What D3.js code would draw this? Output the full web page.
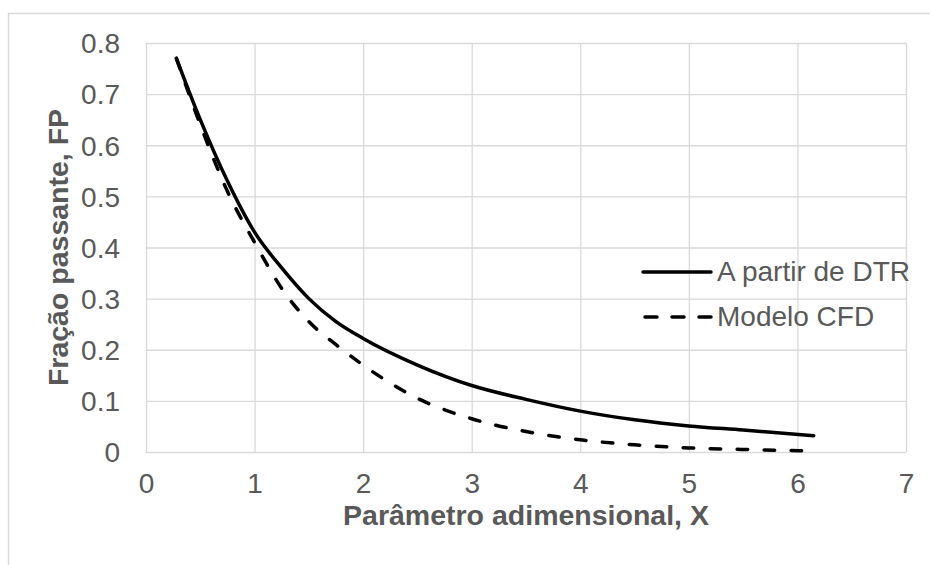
<!DOCTYPE html>
<html>
<head>
<meta charset="utf-8">
<script src="https://cdn.jsdelivr.net/npm/d3@7"></script>
<style>
  body { margin: 0; background: #fff; }
  text { font-family: "Liberation Sans", Arial, sans-serif; fill: #595959; }
</style>
</head>
<body>
<div id="chart"></div>
<script>
// data
var xDTR = [0.28, 0.5, 0.75, 1, 1.25, 1.5, 1.75, 2, 2.5, 3, 3.5, 4, 4.5, 5, 5.5, 6.15];
var yDTR = [0.77, 0.65, 0.53, 0.43, 0.36, 0.30, 0.255, 0.222, 0.17, 0.13, 0.103, 0.08, 0.063, 0.051, 0.043, 0.032];
var xCFD = [0.28, 0.5, 0.75, 1, 1.25, 1.5, 1.75, 2, 2.5, 3, 3.5, 4, 4.5, 5, 5.5, 6.15];
var yCFD = [0.77, 0.64, 0.51, 0.41, 0.32, 0.255, 0.21, 0.17, 0.105, 0.065, 0.04, 0.024, 0.014, 0.008, 0.005, 0.002];
var xTicks = [0, 1, 2, 3, 4, 5, 6, 7];
var yTicks = [0, 0.1, 0.2, 0.3, 0.4, 0.5, 0.6, 0.7, 0.8];
var seriesNames = ["A partir de DTR", "Modelo CFD"];

var width = 930, height = 565;
var margin = { left: 146, right: 24, top: 43, bottom: 113 };
var w = width - margin.left - margin.right;
var h = height - margin.top - margin.bottom;

var svg = d3.select('#chart')
  .append('svg')
  .attr('width', width)
  .attr('height', height);

// chart area border (runs off right and bottom edge)
svg.append('rect')
  .attr('x', 8.5).attr('y', 13.5)
  .attr('width', 960).attr('height', 600)
  .attr('fill', 'none')
  .attr('stroke', '#d9d9d9')
  .attr('stroke-width', 1.5);

var g = svg.append('g')
  .attr('transform', 'translate(' + margin.left + ',' + margin.top + ')');

var x = d3.scaleLinear().domain([0, 7]).range([0, w]);
var y = d3.scaleLinear().domain([0, 0.8]).range([h, 0]);

var xAxis = g.append('g')
  .attr('transform', 'translate(0,' + h + ')')
  .call(d3.axisBottom(x).tickValues(xTicks).tickSize(-h).tickPadding(0).tickFormat(d3.format('d')));
var yAxis = g.append('g')
  .call(d3.axisLeft(y).tickValues(yTicks).tickSize(-w).tickPadding(0).tickFormat(function (d) { return d === 0 ? '0' : d3.format('.1f')(d); }));

[xAxis, yAxis].forEach(function (a) {
  a.select('.domain').remove();
  a.selectAll('line').attr('stroke', '#d9d9d9').attr('stroke-width', 1.3);
  a.selectAll('text')
    .style('font-size', '28px')
    .attr('fill', '#595959');
});
xAxis.selectAll('text').attr('y', 41).attr('dy', null);
yAxis.selectAll('text').attr('x', -26).attr('dy', '0.35em');

// lines
var line = d3.line()
  .x(function (d) { return x(d[0]); })
  .y(function (d) { return y(d[1]); })
  .curve(d3.curveMonotoneX);

var dtr = xDTR.map(function (v, i) { return [v, yDTR[i]]; });
var cfd = xCFD.map(function (v, i) { return [v, yCFD[i]]; });

g.append('path')
  .attr('d', line(cfd))
  .attr('fill', 'none')
  .attr('stroke', '#000')
  .attr('stroke-width', 3.5)
  .attr('stroke-linecap', 'round')
  .attr('stroke-dasharray', '10.5,16.5');

g.append('path')
  .attr('d', line(dtr))
  .attr('fill', 'none')
  .attr('stroke', '#000')
  .attr('stroke-width', 3.5)
  .attr('stroke-linecap', 'round');

// legend
var legend = svg.selectAll('.legend')
  .data(seriesNames)
  .enter()
  .append('g')
  .attr('class', 'legend')
  .attr('transform', function (d, i) { return 'translate(643,' + (272 + i * 45) + ')'; });

legend.append('line')
  .attr('x2', 68)
  .attr('stroke', '#000')
  .attr('stroke-width', 3.5)
  .attr('stroke-linecap', 'round')
  .attr('stroke-dasharray', function (d, i) { return i ? '12,15' : null; })
  .attr('x1', function (d, i) { return i ? 2 : 0; });

legend.append('text')
  .attr('x', 74)
  .attr('y', 9)
  .style('font-size', '28px')
  .text(function (d) { return d; });

// axis titles
svg.append('text')
  .attr('x', margin.left + w / 2)
  .attr('y', 525)
  .attr('text-anchor', 'middle')
  .style('font-size', '28.5px')
  .style('font-weight', 'bold')
  .text('Parâmetro adimensional, X');

svg.append('text')
  .attr('transform', 'translate(68,' + (margin.top + h / 2) + ') rotate(-90)')
  .attr('text-anchor', 'middle')
  .style('font-size', '28.5px')
  .style('font-weight', 'bold')
  .text('Fração passante, FP');
</script>
</body>
</html>
